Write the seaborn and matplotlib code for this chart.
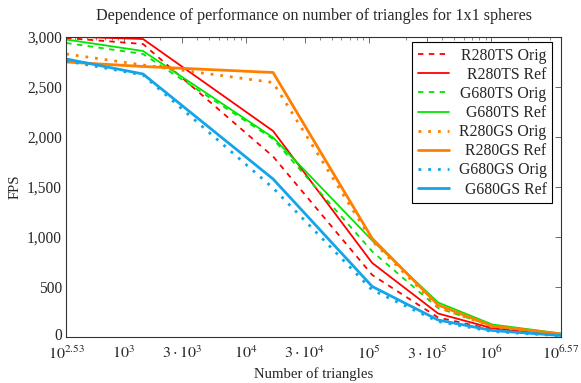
import numpy as np
import pandas as pd
import matplotlib
matplotlib.use("Agg")
import matplotlib.pyplot as plt
import matplotlib.ticker as mticker
import matplotlib.transforms as mtransforms
import seaborn as sns

triangles = [340, 1440, 16600, 107000, 369000, 1020000, 3720000]

r280ts_orig = [2990, 2930, 1805, 620, 195, 75, 22]
r280ts_ref = [3005, 2980, 2060, 740, 235, 88, 25]
g680ts_orig = [2940, 2830, 1980, 855, 290, 110, 30]
g680ts_ref = [2975, 2860, 1995, 965, 345, 125, 35]
r280gs_orig = [2830, 2720, 2545, 960, 300, 100, 28]
r280gs_ref = [2750, 2705, 2645, 985, 320, 110, 30]
g680gs_orig = [2760, 2620, 1490, 470, 155, 55, 12]
g680gs_ref = [2780, 2630, 1580, 505, 170, 65, 15]

series_names = ["R280TS Orig", "R280TS Ref", "G680TS Orig", "G680TS Ref",
                "R280GS Orig", "R280GS Ref", "G680GS Orig", "G680GS Ref"]
series_values = [r280ts_orig, r280ts_ref, g680ts_orig, g680ts_ref,
                 r280gs_orig, r280gs_ref, g680gs_orig, g680gs_ref]

xtick_pos = [10**2.53, 1e3, 3e3, 1e4, 3e4, 1e5, 3e5, 1e6, 10**6.57]
xtick_labels = [r"$10^{2.53}$", r"$10^{3}$", r"$3\cdot10^{3}$", r"$10^{4}$",
                r"$3\cdot10^{4}$", r"$10^{5}$", r"$3\cdot10^{5}$", r"$10^{6}$",
                r"$10^{6.57}$"]
ytick_pos = [0, 500, 1000, 1500, 2000, 2500, 3000]

sns.set_style("white")
plt.rcParams["font.family"] = ["Liberation Serif", "DejaVu Serif"]
plt.rcParams["mathtext.fontset"] = "stix"

red = "#ff0000"
green = "#00e600"
orange = "#ff8000"
blue = "#14a5e8"
styles = [
    dict(color=red, lw=1.3, dashes=(3, 3)),
    dict(color=red, lw=1.3, dashes=None),
    dict(color=green, lw=1.3, dashes=(3, 3)),
    dict(color=green, lw=1.3, dashes=None),
    dict(color=orange, lw=2.0, dashes=(1, 2.5)),
    dict(color=orange, lw=2.0, dashes=None),
    dict(color=blue, lw=2.0, dashes=(1, 2.5)),
    dict(color=blue, lw=2.0, dashes=None),
]

fig = plt.figure(figsize=(5.81, 3.83), dpi=100)
ax = fig.add_axes([66/581, 1-337/383, (561-66)/581, 300/383])

for name, vals, st in zip(series_names, series_values, styles):
    df = pd.DataFrame({"x": triangles, "y": vals})
    sns.lineplot(data=df, x="x", y="y", ax=ax, color=st["color"], lw=st["lw"],
                 label=name)
    line = ax.get_lines()[-1]
    if st["dashes"] is not None:
        line.set_dashes(st["dashes"])
        line.set_dash_capstyle("butt")

ax.set_xscale("log")
ax.set_xlim(10**2.53, 10**6.57)
ax.set_ylim(0, 3000)
ax.set_xticks(xtick_pos)
ax.set_xticklabels(xtick_labels, fontsize=11.5)
ax.xaxis.set_minor_locator(mticker.LogLocator(base=10, subs=np.arange(2, 10)))
ax.xaxis.set_minor_formatter(mticker.NullFormatter())
ax.set_yticks(ytick_pos)
ax.set_yticklabels([f"{v:,}" for v in ytick_pos], fontsize=11.2)
ax.tick_params(axis="both", which="major", direction="in", length=4, width=0.6,
               top=True, right=True, color="#555555")
ax.tick_params(axis="x", which="major", pad=6)
ax.tick_params(axis="y", which="major", pad=3)
ax.tick_params(axis="both", which="minor", direction="in", length=2.2, width=0.5,
               top=True, right=True, color="#555555")
for s in ax.spines.values():
    s.set_linewidth(0.8)
    s.set_color("#333333")

# nudge the "0" label up a little so it clears the first x label
zero_lab = ax.get_yticklabels()[0]
zero_lab.set_transform(zero_lab.get_transform() +
                       mtransforms.ScaledTranslation(0, 3/100, fig.dpi_scale_trans))

ax.set_xlabel("Number of triangles", fontsize=10.6, labelpad=3)
ax.set_ylabel("FPS", fontsize=10.6, labelpad=4)
ax.set_title("Dependence of performance on number of triangles for 1x1 spheres",
             fontsize=11.6, pad=12)

leg = ax.legend(loc="upper right", bbox_to_anchor=(0.982, 0.983), fontsize=11.3,
                frameon=True, fancybox=False, edgecolor="black", framealpha=1,
                handlelength=2.0, handletextpad=0.6, labelspacing=0.2,
                borderpad=0.35, borderaxespad=0)
leg.get_frame().set_linewidth(0.8)

# right-align legend labels (pgfplots style) while keeping handles on the left
try:
    renderer = fig.canvas.get_renderer()
    for col in leg._legend_handle_box.get_children():
        rows = col.get_children()
        maxw = max(r.get_bbox(renderer).width for r in rows)
        for r in rows:
            r.mode = "expand"
            r.width = maxw
        col.width = maxw
except Exception:
    pass

fig.savefig("out.png", dpi=100)
